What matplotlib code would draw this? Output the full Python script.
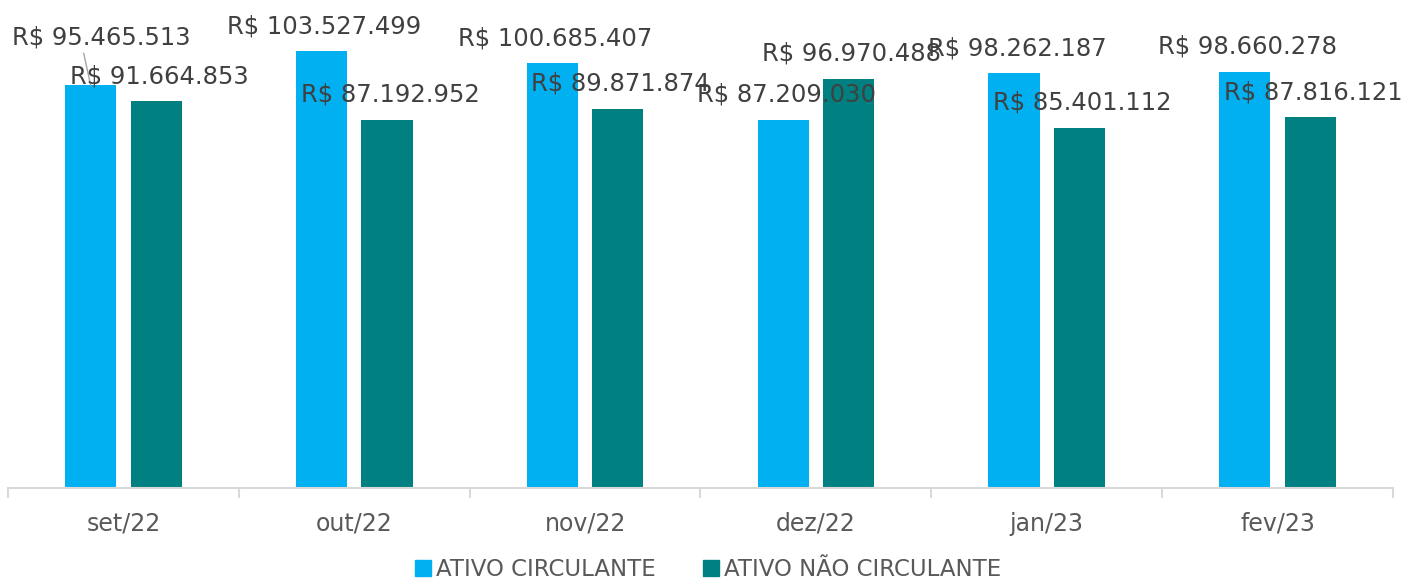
import matplotlib
matplotlib.use("Agg")
import matplotlib.pyplot as plt
from matplotlib.lines import Line2D
import numpy as np

categories = ["set/22", "out/22", "nov/22", "dez/22", "jan/23", "fev/23"]
ativo_circulante = [95465513, 103527499, 100685407, 87209030, 98262187, 98660278]
ativo_nao_circulante = [91664853, 87192952, 89871874, 96970488, 85401112, 87816121]
series_names = ["ATIVO CIRCULANTE", "ATIVO NÃO CIRCULANTE"]
colors = ["#00B0F0", "#008080"]

def fmt(v):
    return "R$ " + f"{v:,}".replace(",", ".")

W, H = 1405, 583
fig = plt.figure(figsize=(W / 100, H / 100), dpi=100)
plt.rcParams['font.family'] = ['DejaVu Sans']
ax = fig.add_axes([8 / W, 95 / H, (1393 - 8) / W, 485.4 / H])

x = np.arange(len(categories))
bw = 0.222
off = 0.142
b1 = ax.bar(x - off, ativo_circulante, bw, color=colors[0], label=series_names[0])
b2 = ax.bar(x + off, ativo_nao_circulante, bw, color=colors[1], label=series_names[1])

ax.set_xlim(-0.5, len(categories) - 0.5)
ax.set_ylim(0, 115e6)
ax.set_yticks([])
for s in ["top", "right", "left"]:
    ax.spines[s].set_visible(False)
ax.spines["bottom"].set_color("#D9D9D9")
ax.spines["bottom"].set_linewidth(1.5)
ax.set_xticks(x)
ax.set_xticklabels(categories, fontsize=17, color="#595959")
ax.tick_params(axis="x", length=0, pad=17)
ax.set_xticks(np.arange(len(categories) + 1) - 0.5, minor=True)
ax.tick_params(axis="x", which="minor", length=7, width=1.5, color="#D9D9D9")

lab_color = "#404040"
for bars, vals, si in [(b1, ativo_circulante, 0), (b2, ativo_nao_circulante, 1)]:
    for i, (r, v) in enumerate(zip(bars, vals)):
        cx = r.get_x() + r.get_width() / 2
        if si == 0 and i == 0:
            ax.annotate(fmt(v), (cx, v), xytext=(11, 48), textcoords="offset pixels",
                        ha="center", va="center", fontsize=17.5, color=lab_color, zorder=5)
            ax.annotate("", (cx, v), xytext=(-7, 32), textcoords="offset pixels",
                        arrowprops=dict(arrowstyle="-", color="#A6A6A6", lw=1,
                                        shrinkA=0, shrinkB=0))
        else:
            ax.annotate(fmt(v), (cx, v), xytext=(3, 25), textcoords="offset pixels",
                        ha="center", va="center", fontsize=17.5, color=lab_color, zorder=5)

handles = [Line2D([], [], marker="s", linestyle="none", markersize=11,
                  markerfacecolor=c, markeredgecolor=c) for c in colors]
fig.legend(handles, series_names, loc="center", bbox_to_anchor=(707 / W, 1 - 570 / H),
           ncol=2, frameon=False, fontsize=16.5, handletextpad=0.1, columnspacing=2.0,
           labelcolor="#595959", handlelength=0.9)

fig.savefig("out.png", dpi=100)
